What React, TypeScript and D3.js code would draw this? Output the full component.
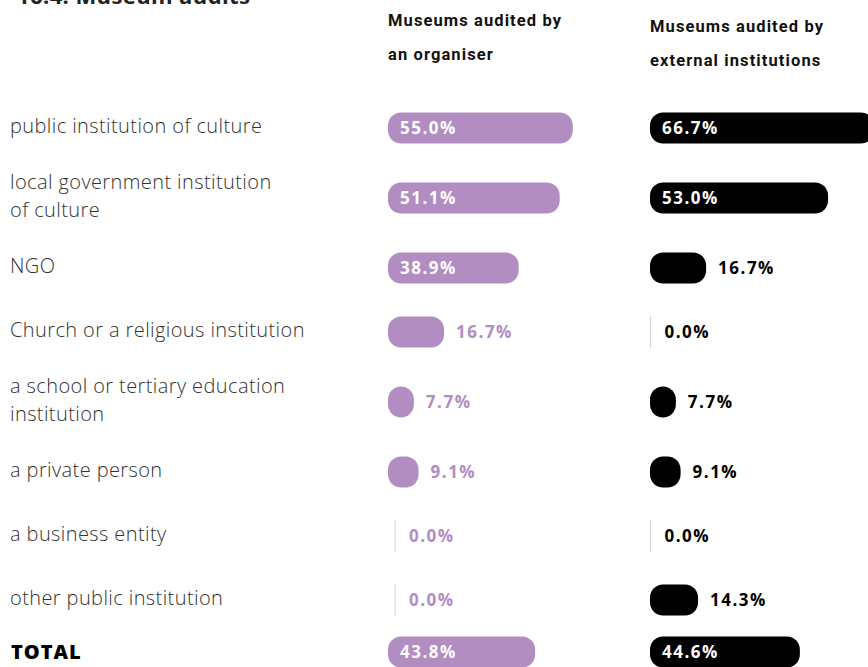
import { useEffect } from 'react';
import * as d3 from 'd3';

// rows of the chart, "\n" splits a label over two lines
const categories = [
  'public institution of culture',
  'local government institution\nof culture',
  'NGO',
  'Church or a religious institution',
  'a school or tertiary education\ninstitution',
  'a private person',
  'a business entity',
  'other public institution',
];
const organiserValues = [55.0, 51.1, 38.9, 16.7, 7.7, 9.1, 0.0, 0.0];
const externalValues = [66.7, 53.0, 16.7, 0.0, 7.7, 9.1, 0.0, 14.3];
const totalLabel = 'TOTAL';
const totalValues = [43.8, 44.6];
const seriesTitles = [
  ['Museums audited by', 'an organiser'],
  ['Museums audited by', 'external institutions'],
];
const chartTitle = '16.4. Museum audits';

const PURPLE = '#b28dc2';
const BLACK = '#000000';

export default function App() {
  useEffect(() => {
    document.body.style.margin = '0';
  }, []);

  const width = 868;
  const height = 667;

  // bar length scale (same for both columns)
  const x = d3.scaleLinear().domain([0, 100]).range([0, 336]);

  // row centres: rows with two-line labels get a bit more room
  const lineCount = categories.map((c) => c.split('\n').length);
  const rowY: number[] = [];
  let cy = 128;
  categories.forEach((_, i) => {
    if (i > 0) cy += 64 + 6 * ((lineCount[i - 1] - 1) + (lineCount[i] - 1));
    rowY.push(cy);
  });
  const totalY = cy + 52;

  const barH = 31;
  const columns = [
    { x0: 388, zeroX: 395, headY: 20, color: PURPLE, values: organiserValues, total: totalValues[0] },
    { x0: 650, zeroX: 650.5, headY: 26, color: BLACK, values: externalValues, total: totalValues[1] },
  ];

  const valueFont = { fontSize: 17, fontWeight: 700, letterSpacing: 1.5, fontFamily: "'Open Sans', sans-serif" };

  const renderBar = (v: number, y: number, col: typeof columns[number], key: string) => {
    const w = x(v);
    const label = `${v.toFixed(1)}%`;
    if (v === 0) {
      return (
        <g key={key}>
          <line x1={col.zeroX} x2={col.zeroX} y1={y - 16} y2={y + 16} stroke="#cfcfcf" strokeWidth={1} />
          <text x={col.zeroX + 14} y={y} dy="0.35em" fill={col.color} {...valueFont}>{label}</text>
        </g>
      );
    }
    const inside = w >= 80;
    return (
      <g key={key}>
        <rect x={col.x0} y={y - barH / 2} width={w} height={barH} rx={13} ry={13} fill={col.color} />
        <text x={inside ? col.x0 + 12 : col.x0 + w + 12} y={y} dy="0.35em"
          fill={inside ? '#ffffff' : col.color} {...valueFont}>{label}</text>
      </g>
    );
  };

  return (
    <svg width={width} height={height} style={{ display: 'block', background: '#fff' }}>
      <text x={17} y={4} fontSize={22} fontWeight={700} letterSpacing={0.4} fill="#222"
        fontFamily="'Open Sans', sans-serif">
        {chartTitle}
      </text>

      {columns.map((col, ci) => (
        <text key={`h${ci}`} x={col.x0} y={col.headY} fontSize={16.5} fontWeight={700} letterSpacing={1.1}
          fill="#111" fontFamily="Roboto, sans-serif">
          {seriesTitles[ci].map((t, li) => (
            <tspan key={li} x={col.x0} dy={li === 0 ? '0.35em' : 34}>{t}</tspan>
          ))}
        </text>
      ))}

      {categories.map((c, i) => {
        const lines = c.split('\n');
        const y0 = rowY[i] - ((lines.length - 1) * 28) / 2 - 2;
        return (
          <text key={c} x={10} y={y0} fontSize={20} fontWeight={300} letterSpacing={0.4} fill="#333"
            fontFamily="'Open Sans', sans-serif">
            {lines.map((l, li) => (
              <tspan key={li} x={10} dy={li === 0 ? '0.35em' : 28}>{l}</tspan>
            ))}
          </text>
        );
      })}

      {columns.map((col, ci) => (
        <g key={`c${ci}`}>
          {col.values.map((v, i) => renderBar(v, rowY[i], col, `b${ci}-${i}`))}
          {renderBar(col.total, totalY, col, `t${ci}`)}
        </g>
      ))}

      <text x={11} y={totalY} dy="0.35em" fontSize={20} fontWeight={800} letterSpacing={1} fill="#000"
        fontFamily="'Open Sans', sans-serif">{totalLabel}</text>
    </svg>
  );
}
